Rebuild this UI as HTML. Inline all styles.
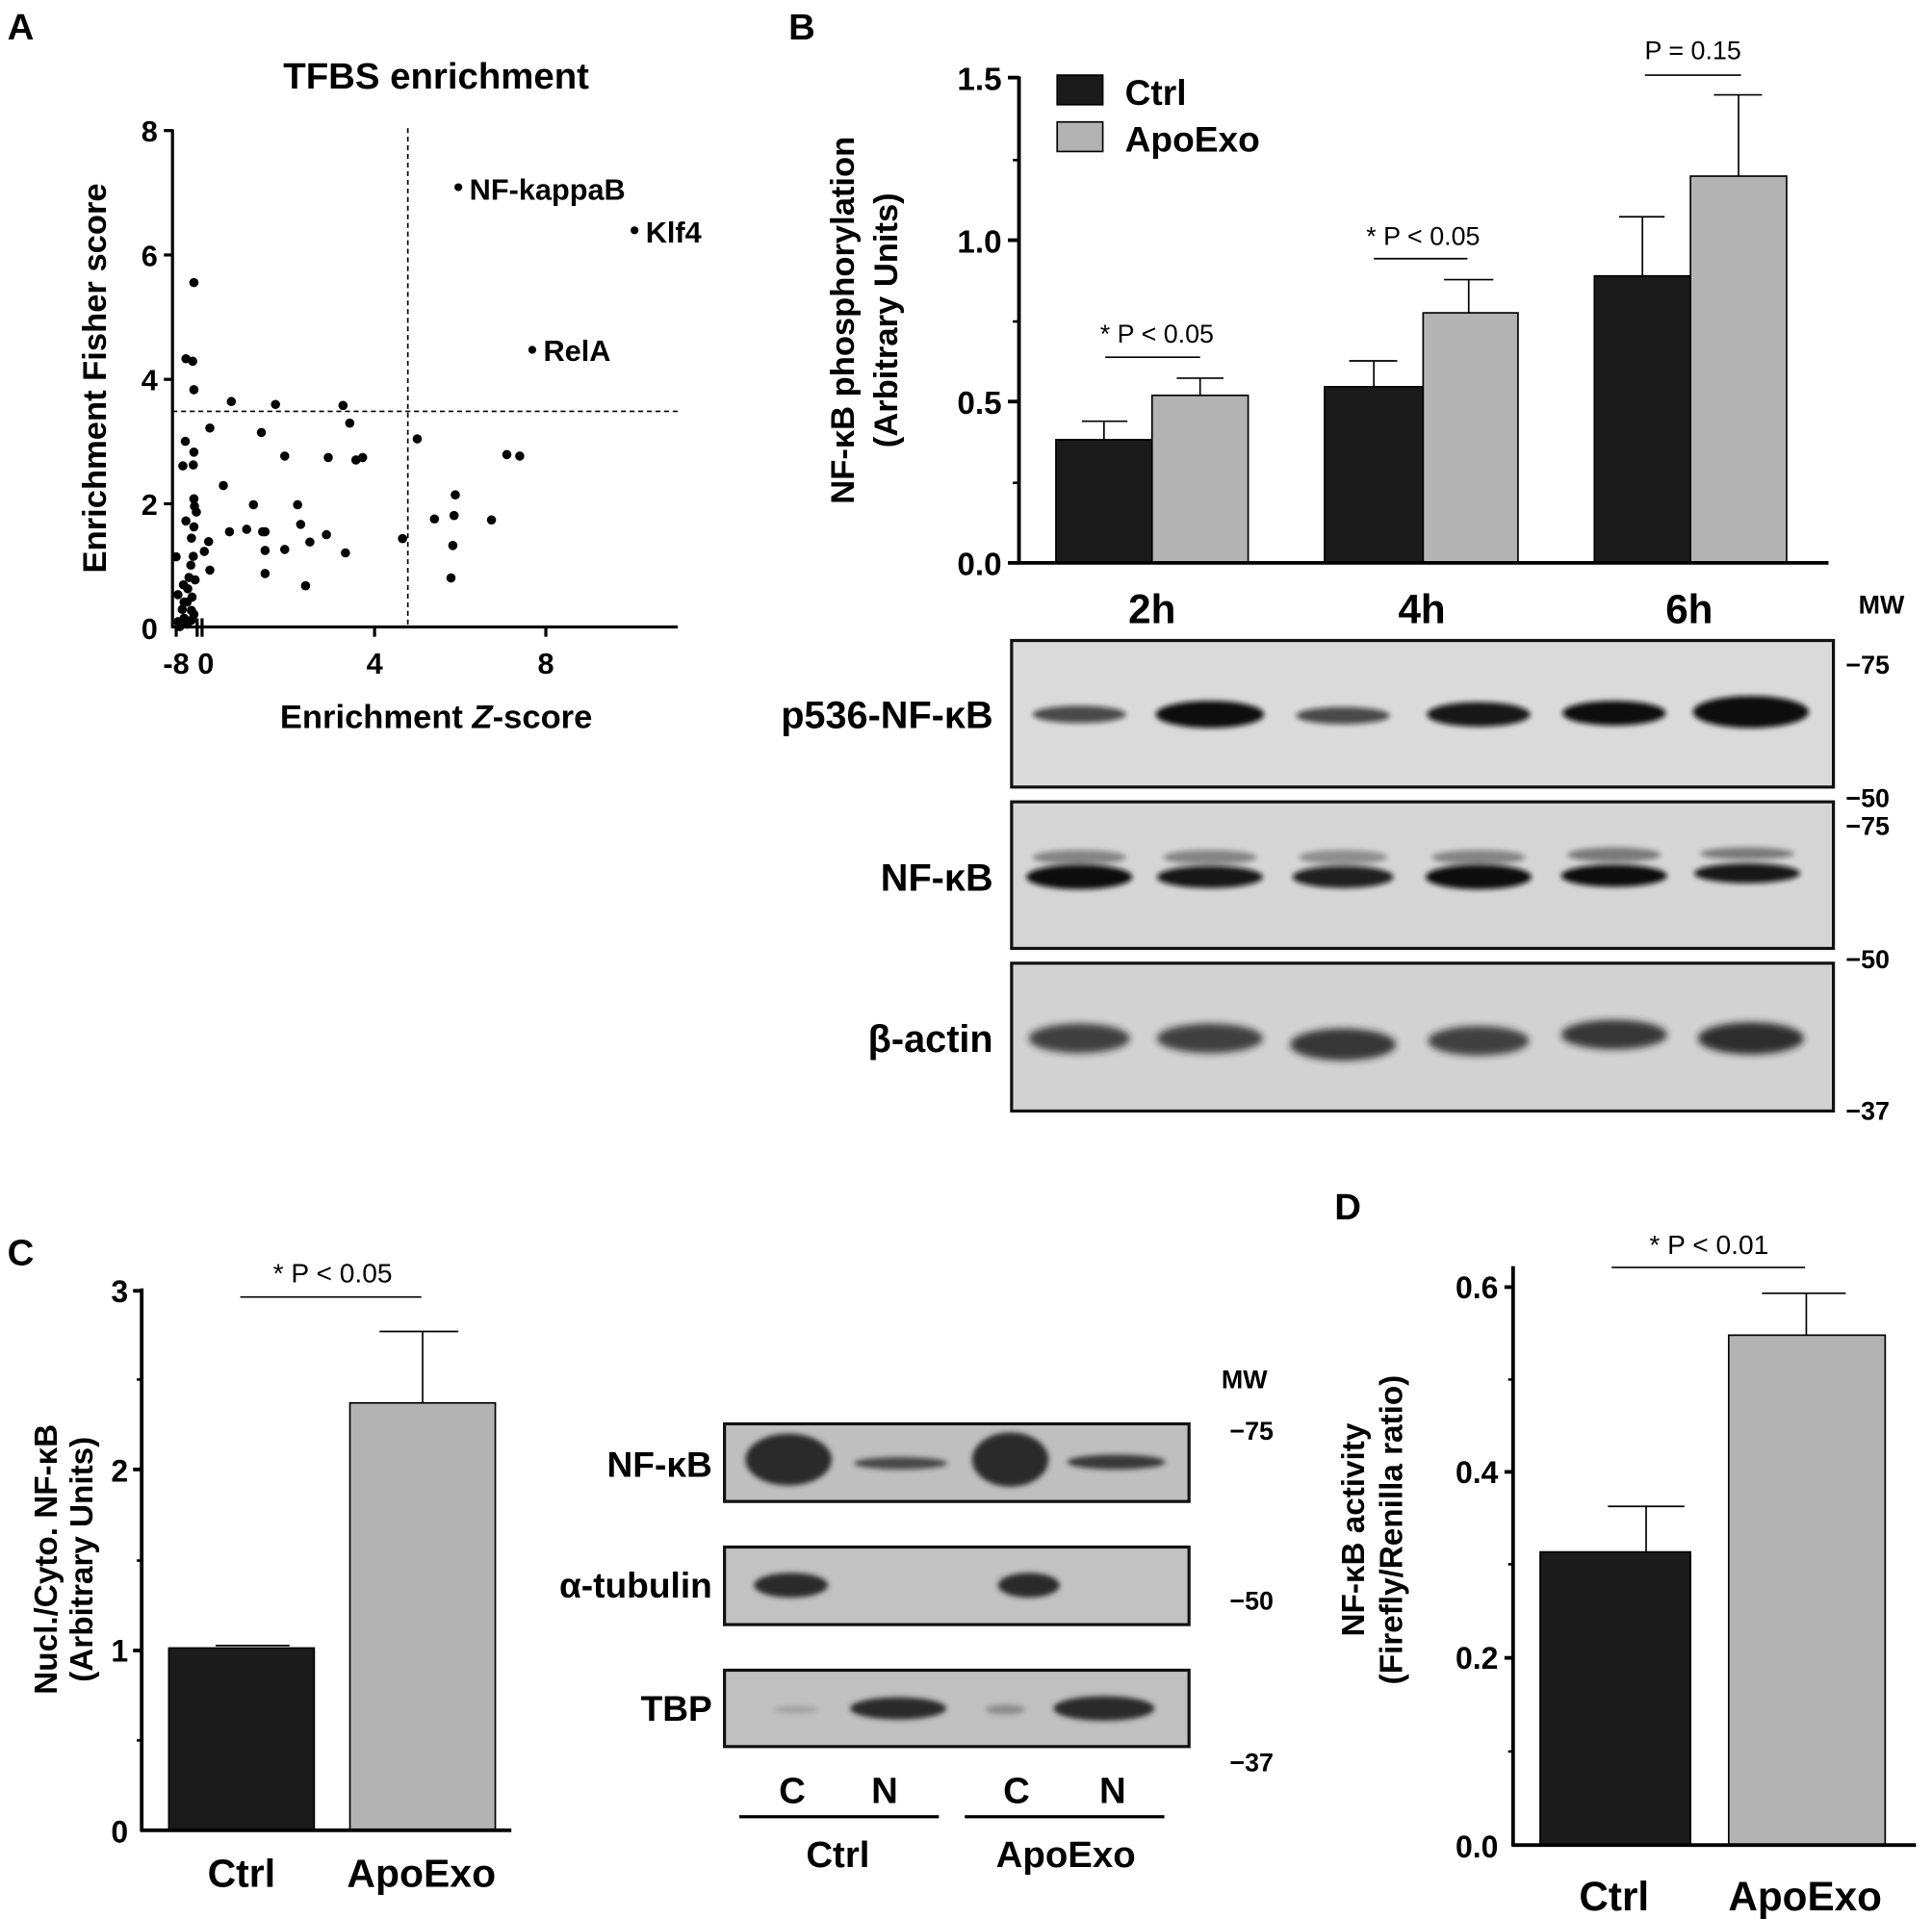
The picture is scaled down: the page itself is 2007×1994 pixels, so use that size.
<!DOCTYPE html>
<html><head><meta charset="utf-8"><style>
html,body{margin:0;padding:0;background:#fff;}
svg{display:block;}
text{font-family:"Liberation Sans",Arial,sans-serif;}
.b{font-weight:bold;}
</style></head><body>
<svg width="2007" height="1994" viewBox="0 0 1568 1558" preserveAspectRatio="none" xmlns="http://www.w3.org/2000/svg">
<defs>
<filter id="bl" x="-30%" y="-100%" width="160%" height="300%"><feGaussianBlur stdDeviation="3"/></filter>
<filter id="bl2" x="-30%" y="-100%" width="160%" height="300%"><feGaussianBlur stdDeviation="2"/></filter>
</defs>
<rect width="1568" height="1558" fill="#fff"/>

<!-- ============ Panel A ============ -->
<text x="6" y="32" class="b" font-size="30">A</text>
<text x="354" y="72" class="b" font-size="30" text-anchor="middle">TFBS enrichment</text>
<g stroke="#000" stroke-width="2.5" fill="none">
<line x1="140" y1="105" x2="140" y2="510"/>
<line x1="140" y1="509" x2="550" y2="509"/>
<line x1="133" y1="106" x2="140" y2="106"/>
<line x1="133" y1="207" x2="140" y2="207"/>
<line x1="133" y1="308" x2="140" y2="308"/>
<line x1="133" y1="409" x2="140" y2="409"/>
<line x1="143" y1="509" x2="143" y2="517"/>
<line x1="164" y1="502" x2="164" y2="517"/>
<line x1="160" y1="502" x2="160" y2="517"/>
<line x1="304" y1="509" x2="304" y2="517"/>
<line x1="443" y1="509" x2="443" y2="517"/>
</g>
<g class="b" font-size="24" text-anchor="end">
<text x="128" y="115">8</text><text x="128" y="216">6</text><text x="128" y="317">4</text><text x="128" y="418">2</text><text x="128" y="519">0</text>
</g>
<g class="b" font-size="24" text-anchor="middle">
<text x="143" y="547">-8</text><text x="167" y="547">0</text><text x="304" y="547">4</text><text x="443" y="547">8</text>
</g>
<text x="354" y="591" class="b" font-size="27" text-anchor="middle">Enrichment <tspan font-style="italic">Z</tspan>-score</text>
<text transform="translate(86,307) rotate(-90)" class="b" font-size="27" text-anchor="middle">Enrichment Fisher score</text>
<g stroke="#000" stroke-width="1.3" stroke-dasharray="4,3">
<line x1="331" y1="104" x2="331" y2="509"/>
<line x1="140" y1="334" x2="550" y2="334"/>
</g>
<g fill="#000">
<circle cx="372" cy="152" r="3.2"/><circle cx="515" cy="187" r="3.2"/><circle cx="432" cy="284" r="3.2"/>
</g>
<text x="381" y="162" class="b" font-size="24">NF-kappaB</text>
<text x="524" y="197" class="b" font-size="24">Klf4</text>
<text x="441" y="293" class="b" font-size="24">RelA</text>
<g transform="matrix(0.498 0 0 0.399 0 0)" fill="#000">
<ellipse cx="316" cy="575" rx="7.5" ry="9.4"/><ellipse cx="303" cy="730" rx="7.5" ry="9.4"/><ellipse cx="314" cy="735" rx="7.5" ry="9.4"/><ellipse cx="316" cy="793" rx="7.5" ry="9.4"/><ellipse cx="377" cy="817" rx="7.5" ry="9.4"/><ellipse cx="449" cy="823" rx="7.5" ry="9.4"/><ellipse cx="559" cy="825" rx="7.5" ry="9.4"/><ellipse cx="570" cy="861" rx="7.5" ry="9.4"/><ellipse cx="342" cy="871" rx="7.5" ry="9.4"/><ellipse cx="426" cy="880" rx="7.5" ry="9.4"/><ellipse cx="680" cy="893" rx="7.5" ry="9.4"/><ellipse cx="302" cy="898" rx="7.5" ry="9.4"/><ellipse cx="316" cy="920" rx="7.5" ry="9.4"/><ellipse cx="298" cy="948" rx="7.5" ry="9.4"/><ellipse cx="315" cy="946" rx="7.5" ry="9.4"/><ellipse cx="464" cy="928" rx="7.5" ry="9.4"/><ellipse cx="535" cy="931" rx="7.5" ry="9.4"/><ellipse cx="580" cy="936" rx="7.5" ry="9.4"/><ellipse cx="591" cy="931" rx="7.5" ry="9.4"/><ellipse cx="826" cy="925" rx="7.5" ry="9.4"/><ellipse cx="847" cy="928" rx="7.5" ry="9.4"/><ellipse cx="364" cy="988" rx="7.5" ry="9.4"/><ellipse cx="742" cy="1007" rx="7.5" ry="9.4"/><ellipse cx="316" cy="1015" rx="7.5" ry="9.4"/><ellipse cx="413" cy="1027" rx="7.5" ry="9.4"/><ellipse cx="317" cy="1030" rx="7.5" ry="9.4"/><ellipse cx="485" cy="1027" rx="7.5" ry="9.4"/><ellipse cx="320" cy="1042" rx="7.5" ry="9.4"/><ellipse cx="708" cy="1056" rx="7.5" ry="9.4"/><ellipse cx="740" cy="1049" rx="7.5" ry="9.4"/><ellipse cx="801" cy="1058" rx="7.5" ry="9.4"/><ellipse cx="303" cy="1060" rx="7.5" ry="9.4"/><ellipse cx="316" cy="1072" rx="7.5" ry="9.4"/><ellipse cx="490" cy="1067" rx="7.5" ry="9.4"/><ellipse cx="374" cy="1082" rx="7.5" ry="9.4"/><ellipse cx="402" cy="1077" rx="7.5" ry="9.4"/><ellipse cx="432" cy="1082" rx="7.5" ry="9.4"/><ellipse cx="428" cy="1082" rx="7.5" ry="9.4"/><ellipse cx="532" cy="1088" rx="7.5" ry="9.4"/><ellipse cx="312" cy="1095" rx="7.5" ry="9.4"/><ellipse cx="656" cy="1096" rx="7.5" ry="9.4"/><ellipse cx="505" cy="1103" rx="7.5" ry="9.4"/><ellipse cx="340" cy="1102" rx="7.5" ry="9.4"/><ellipse cx="464" cy="1118" rx="7.5" ry="9.4"/><ellipse cx="432" cy="1120" rx="7.5" ry="9.4"/><ellipse cx="738" cy="1110" rx="7.5" ry="9.4"/><ellipse cx="315" cy="1132" rx="7.5" ry="9.4"/><ellipse cx="333" cy="1122" rx="7.5" ry="9.4"/><ellipse cx="563" cy="1125" rx="7.5" ry="9.4"/><ellipse cx="287" cy="1133" rx="7.5" ry="9.4"/><ellipse cx="311" cy="1150" rx="7.5" ry="9.4"/><ellipse cx="342" cy="1160" rx="7.5" ry="9.4"/><ellipse cx="432" cy="1167" rx="7.5" ry="9.4"/><ellipse cx="498" cy="1192" rx="7.5" ry="9.4"/><ellipse cx="735" cy="1176" rx="7.5" ry="9.4"/><ellipse cx="290" cy="1210" rx="7.5" ry="9.4"/><ellipse cx="308" cy="1175" rx="7.5" ry="9.4"/><ellipse cx="299" cy="1190" rx="7.5" ry="9.4"/><ellipse cx="313" cy="1215" rx="7.5" ry="9.4"/><ellipse cx="305" cy="1225" rx="7.5" ry="9.4"/><ellipse cx="297" cy="1240" rx="7.5" ry="9.4"/><ellipse cx="312" cy="1242" rx="7.5" ry="9.4"/><ellipse cx="300" cy="1258" rx="7.5" ry="9.4"/><ellipse cx="290" cy="1265" rx="7.5" ry="9.4"/><ellipse cx="305" cy="1270" rx="7.5" ry="9.4"/><ellipse cx="316" cy="1250" rx="7.5" ry="9.4"/><ellipse cx="293" cy="1275" rx="7.5" ry="9.4"/><ellipse cx="312" cy="1262" rx="7.5" ry="9.4"/><ellipse cx="300" cy="1225" rx="7.5" ry="9.4"/><ellipse cx="306" cy="1198" rx="7.5" ry="9.4"/><ellipse cx="318" cy="1180" rx="7.5" ry="9.4"/>
</g>

<!-- ============ Panel B chart ============ -->
<text x="640" y="32" class="b" font-size="30">B</text>
<g stroke="#000" stroke-width="1.3">
<rect x="857" y="357" width="78" height="100" fill="#1b1b1b"/>
<rect x="935" y="321" width="78" height="136" fill="#b3b3b3"/>
<rect x="1075" y="314" width="80" height="143" fill="#1b1b1b"/>
<rect x="1155" y="254" width="77" height="203" fill="#b3b3b3"/>
<rect x="1294" y="224" width="78" height="233" fill="#1b1b1b"/>
<rect x="1372" y="143" width="78" height="314" fill="#b3b3b3"/>
<line x1="896" y1="357" x2="896" y2="342"/><line x1="878" y1="342" x2="915" y2="342"/>
<line x1="974" y1="321" x2="974" y2="307"/><line x1="955" y1="307" x2="993" y2="307"/>
<line x1="1115" y1="314" x2="1115" y2="293"/><line x1="1095" y1="293" x2="1134" y2="293"/>
<line x1="1192" y1="254" x2="1192" y2="227"/><line x1="1172" y1="227" x2="1212" y2="227"/>
<line x1="1333" y1="224" x2="1333" y2="176"/><line x1="1314" y1="176" x2="1351" y2="176"/>
<line x1="1411" y1="143" x2="1411" y2="77"/><line x1="1391" y1="77" x2="1430" y2="77"/>
<line x1="897" y1="290" x2="974" y2="290"/>
<line x1="1115" y1="210" x2="1191" y2="210"/>
<line x1="1335" y1="61" x2="1413" y2="61"/>
</g>
<g stroke="#000" stroke-width="3" fill="none">
<line x1="827" y1="62" x2="827" y2="458"/>
<line x1="826" y1="457" x2="1484" y2="457"/>
<line x1="818" y1="63" x2="827" y2="63"/><line x1="818" y1="195" x2="827" y2="195"/>
<line x1="818" y1="326" x2="827" y2="326"/><line x1="818" y1="457" x2="827" y2="457"/>
</g>
<g stroke="#000" stroke-width="2"><line x1="822" y1="130" x2="827" y2="130"/><line x1="822" y1="261" x2="827" y2="261"/><line x1="822" y1="392" x2="827" y2="392"/></g>
<g class="b" font-size="26" text-anchor="end">
<text x="813" y="73">1.5</text><text x="813" y="205">1.0</text><text x="813" y="336">0.5</text><text x="813" y="467">0.0</text>
</g>
<text transform="translate(693,260) rotate(-90)" class="b" font-size="27" text-anchor="middle">NF-κB phosphorylation</text>
<text transform="translate(728,260) rotate(-90)" class="b" font-size="27" text-anchor="middle">(Arbitrary Units)</text>
<rect x="858" y="61" width="37" height="24" fill="#1b1b1b" stroke="#000" stroke-width="1.3"/>
<rect x="858" y="99" width="37" height="24" fill="#b3b3b3" stroke="#000" stroke-width="1.3"/>
<text x="913" y="85" class="b" font-size="29">Ctrl</text>
<text x="913" y="123" class="b" font-size="29">ApoExo</text>
<g font-size="21" text-anchor="middle">
<text x="939" y="278">*  P &lt; 0.05</text>
<text x="1155" y="199">*  P &lt; 0.05</text>
<text x="1374" y="48">P = 0.15</text>
</g>
<g class="b" font-size="33" text-anchor="middle">
<text x="935" y="506">2h</text><text x="1154" y="506">4h</text><text x="1371" y="506">6h</text>
</g>
<text x="1527" y="498" class="b" font-size="21" text-anchor="middle">MW</text>

<!-- ============ Panel B blots ============ -->
<rect x="821" y="520" width="667" height="119" fill="#dadada" stroke="#111" stroke-width="2.5"/>
<rect x="821" y="651" width="667" height="119" fill="#d5d5d5" stroke="#111" stroke-width="2.5"/>
<rect x="821" y="782" width="667" height="120" fill="#d2d2d2" stroke="#111" stroke-width="2.5"/>
<g fill="#111">
<ellipse cx="876" cy="580" rx="38" ry="7" opacity="0.7" filter="url(#bl2)"/>
<ellipse cx="982" cy="580" rx="44" ry="11" filter="url(#bl2)"/>
<ellipse cx="1090" cy="581" rx="38" ry="7" opacity="0.7" filter="url(#bl2)"/>
<ellipse cx="1200" cy="580" rx="42" ry="10" opacity="0.95" filter="url(#bl2)"/>
<ellipse cx="1310" cy="579" rx="42" ry="10" filter="url(#bl2)"/>
<ellipse cx="1421" cy="578" rx="47" ry="13" filter="url(#bl2)"/>
</g>
<g fill="#111">
<ellipse cx="876" cy="712" rx="43" ry="10" filter="url(#bl2)"/><ellipse cx="876" cy="696" rx="38" ry="6" opacity="0.4" filter="url(#bl2)"/>
<ellipse cx="982" cy="712" rx="43" ry="9" opacity="0.95" filter="url(#bl2)"/><ellipse cx="982" cy="696" rx="38" ry="6" opacity="0.4" filter="url(#bl2)"/>
<ellipse cx="1090" cy="712" rx="41" ry="9" opacity="0.9" filter="url(#bl2)"/><ellipse cx="1090" cy="696" rx="36" ry="6" opacity="0.35" filter="url(#bl2)"/>
<ellipse cx="1200" cy="712" rx="43" ry="10" filter="url(#bl2)"/><ellipse cx="1200" cy="696" rx="38" ry="6" opacity="0.4" filter="url(#bl2)"/>
<ellipse cx="1310" cy="711" rx="43" ry="9" filter="url(#bl2)"/><ellipse cx="1310" cy="694" rx="38" ry="6" opacity="0.45" filter="url(#bl2)"/>
<ellipse cx="1418" cy="709" rx="43" ry="8" opacity="0.95" filter="url(#bl2)"/><ellipse cx="1418" cy="693" rx="38" ry="5" opacity="0.45" filter="url(#bl2)"/>
</g>
<g fill="#1a1a1a">
<ellipse cx="876" cy="843" rx="41" ry="12" opacity="0.8" filter="url(#bl)"/>
<ellipse cx="982" cy="843" rx="43" ry="12" opacity="0.8" filter="url(#bl)"/>
<ellipse cx="1090" cy="848" rx="43" ry="13" opacity="0.85" filter="url(#bl)"/>
<ellipse cx="1200" cy="845" rx="41" ry="12" opacity="0.8" filter="url(#bl)"/>
<ellipse cx="1310" cy="840" rx="43" ry="12" opacity="0.85" filter="url(#bl)"/>
<ellipse cx="1421" cy="843" rx="43" ry="13" opacity="0.9" filter="url(#bl)"/>
</g>
<g class="b" font-size="31" text-anchor="end">
<text x="806" y="591">p536-NF-κB</text>
<text x="806" y="723">NF-κB</text>
<text x="806" y="854">β-actin</text>
</g>
<g class="b" font-size="21">
<text x="1498" y="547">−75</text><text x="1498" y="655">−50</text><text x="1498" y="678">−75</text><text x="1498" y="786">−50</text><text x="1498" y="909">−37</text>
</g>

<!-- ============ Panel C ============ -->
<text x="6" y="1027" class="b" font-size="30">C</text>
<g stroke="#000" stroke-width="1.3">
<rect x="137" y="1338" width="118" height="148" fill="#1b1b1b"/>
<rect x="284" y="1139" width="118" height="347" fill="#b3b3b3"/>
<line x1="343" y1="1139" x2="343" y2="1081"/><line x1="308" y1="1081" x2="372" y2="1081"/>
<line x1="175" y1="1336" x2="235" y2="1336"/>
<line x1="195" y1="1053" x2="342" y2="1053"/>
</g>
<g stroke="#000" stroke-width="3" fill="none">
<line x1="115" y1="1046" x2="115" y2="1487"/>
<line x1="114" y1="1486" x2="415" y2="1486"/>
<line x1="108" y1="1048" x2="115" y2="1048"/><line x1="108" y1="1193" x2="115" y2="1193"/>
<line x1="108" y1="1340" x2="115" y2="1340"/>
</g>
<g stroke="#000" stroke-width="2"><line x1="111" y1="1120" x2="115" y2="1120"/><line x1="111" y1="1267" x2="115" y2="1267"/><line x1="111" y1="1413" x2="115" y2="1413"/></g>
<g class="b" font-size="25" text-anchor="end">
<text x="104" y="1057">3</text><text x="104" y="1203">2</text><text x="104" y="1349">1</text><text x="104" y="1496">0</text>
</g>
<text x="270" y="1041" font-size="22" text-anchor="middle">*  P &lt; 0.05</text>
<text transform="translate(46,1266) rotate(-90)" class="b" font-size="26" text-anchor="middle">Nucl./Cyto. NF-κB</text>
<text transform="translate(75,1266) rotate(-90)" class="b" font-size="26" text-anchor="middle">(Arbitrary Units)</text>
<g class="b" font-size="32" text-anchor="middle">
<text x="196" y="1532">Ctrl</text><text x="342" y="1532">ApoExo</text>
</g>

<!-- C blots -->
<rect x="588" y="1156" width="377" height="63" fill="#bfbfbf" stroke="#111" stroke-width="2.5"/>
<rect x="588" y="1256" width="377" height="63" fill="#c2c2c2" stroke="#111" stroke-width="2.5"/>
<rect x="588" y="1356" width="377" height="62" fill="#c0c0c0" stroke="#111" stroke-width="2.5"/>
<g fill="#2a2a2a">
<ellipse cx="640" cy="1185" rx="35" ry="21" filter="url(#bl2)"/>
<ellipse cx="820" cy="1185" rx="31" ry="22" filter="url(#bl2)"/>
<ellipse cx="731" cy="1188" rx="38" ry="5" opacity="0.8" filter="url(#bl2)"/>
<ellipse cx="906" cy="1187" rx="40" ry="6" opacity="0.9" filter="url(#bl2)"/>
<ellipse cx="642" cy="1287" rx="30" ry="10" filter="url(#bl2)"/>
<ellipse cx="835" cy="1287" rx="25" ry="10" filter="url(#bl2)"/>
<ellipse cx="729" cy="1387" rx="39" ry="9" filter="url(#bl2)"/>
<ellipse cx="896" cy="1387" rx="41" ry="10" filter="url(#bl2)"/>
<ellipse cx="646" cy="1388" rx="18" ry="3" opacity="0.2" filter="url(#bl2)"/>
<ellipse cx="816" cy="1388" rx="16" ry="4" opacity="0.35" filter="url(#bl2)"/>
</g>
<g class="b" font-size="29" text-anchor="end">
<text x="578" y="1199">NF-κB</text>
<text x="578" y="1297">α-tubulin</text>
<text x="578" y="1397">TBP</text>
</g>
<g class="b" font-size="21">
<text x="1010" y="1127" text-anchor="middle">MW</text>
<text x="998" y="1169">−75</text><text x="998" y="1307">−50</text><text x="998" y="1438">−37</text>
</g>
<g class="b" font-size="30" text-anchor="middle">
<text x="643" y="1464">C</text><text x="718" y="1464">N</text><text x="825" y="1464">C</text><text x="903" y="1464">N</text>
</g>
<g stroke="#000" stroke-width="2.5"><line x1="600" y1="1475" x2="762" y2="1475"/><line x1="783" y1="1475" x2="945" y2="1475"/></g>
<g class="b" font-size="30" text-anchor="middle">
<text x="680" y="1516">Ctrl</text><text x="865" y="1516">ApoExo</text>
</g>

<!-- ============ Panel D ============ -->
<text x="1083" y="990" class="b" font-size="30">D</text>
<g stroke="#000" stroke-width="1.3">
<rect x="1250" y="1260" width="122" height="238" fill="#1b1b1b"/>
<rect x="1403" y="1084" width="127" height="414" fill="#b3b3b3"/>
<line x1="1336" y1="1260" x2="1336" y2="1223"/><line x1="1305" y1="1223" x2="1367" y2="1223"/>
<line x1="1466" y1="1084" x2="1466" y2="1050"/><line x1="1430" y1="1050" x2="1498" y2="1050"/>
<line x1="1308" y1="1029" x2="1465" y2="1029"/>
</g>
<g stroke="#000" stroke-width="3" fill="none">
<line x1="1228" y1="1028" x2="1228" y2="1499"/>
<line x1="1227" y1="1498" x2="1555" y2="1498"/>
<line x1="1221" y1="1045" x2="1228" y2="1045"/><line x1="1221" y1="1195" x2="1228" y2="1195"/>
<line x1="1221" y1="1346" x2="1228" y2="1346"/>
</g>
<g stroke="#000" stroke-width="2"><line x1="1224" y1="1120" x2="1228" y2="1120"/><line x1="1224" y1="1270" x2="1228" y2="1270"/><line x1="1224" y1="1422" x2="1228" y2="1422"/></g>
<g class="b" font-size="25" text-anchor="end">
<text x="1216" y="1054">0.6</text><text x="1216" y="1204">0.4</text><text x="1216" y="1355">0.2</text><text x="1216" y="1508">0.0</text>
</g>
<text x="1387" y="1018" font-size="22" text-anchor="middle">*  P &lt; 0.01</text>
<text transform="translate(1107,1242) rotate(-90)" class="b" font-size="26" text-anchor="middle">NF-κB activity</text>
<text transform="translate(1138,1242) rotate(-90)" class="b" font-size="26" text-anchor="middle">(Firefly/Renilla ratio)</text>
<g class="b" font-size="33" text-anchor="middle">
<text x="1310" y="1551">Ctrl</text><text x="1465" y="1551">ApoExo</text>
</g>
</svg>
</body></html>
